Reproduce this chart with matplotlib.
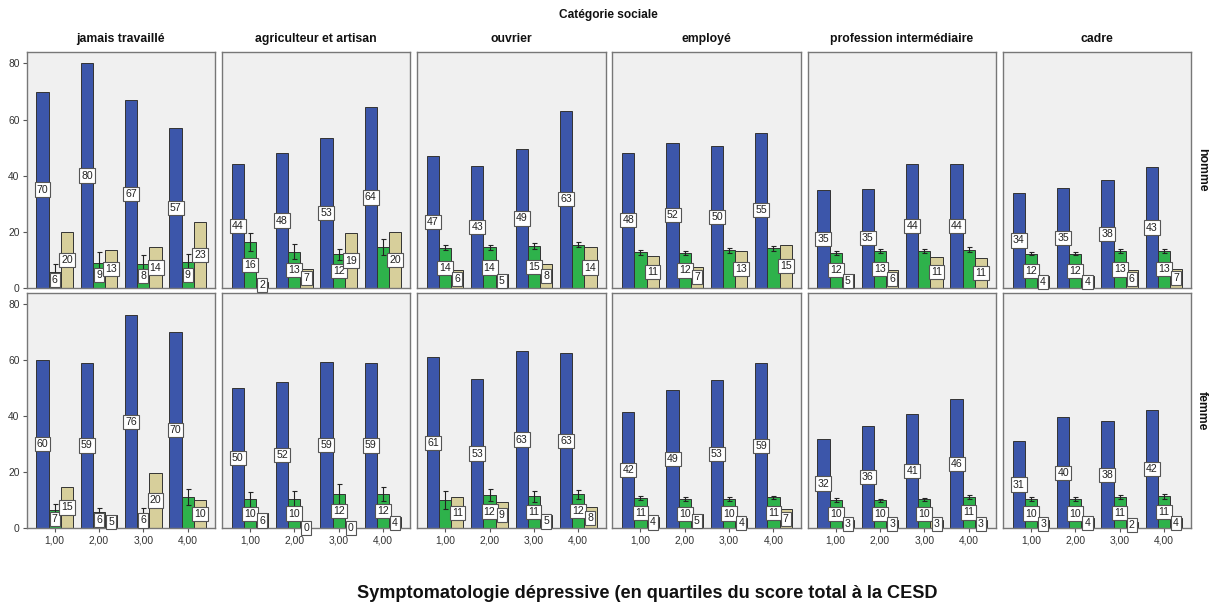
import matplotlib
matplotlib.use("Agg")
import matplotlib.pyplot as plt
import numpy as np

plt.rcParams['font.family'] = ['Liberation Sans', 'DejaVu Sans']

categories = ["jamais travaillé", "agriculteur et artisan", "ouvrier", "employé",
              "profession intermédiaire", "cadre"]
sexes = ["homme", "femme"]
quartiles = ["1,00", "2,00", "3,00", "4,00"]

# homme
blue_homme = [[70, 80, 67, 57], [44.2, 47.9, 53.3, 64.4], [47, 43.3, 49.4, 63.1],
              [48.1, 51.7, 50.4, 55.2], [34.8, 35.2, 44.2, 44.2], [33.7, 35.4, 38.4, 42.9]]
green_homme = [[5.7, 8.9, 8.3, 9.3], [16.3, 12.9, 11.9, 14.4], [14.3, 14.4, 14.8, 15.4],
               [12.6, 12.3, 13.3, 14.0], [12.4, 13.2, 13.1, 13.6], [12.1, 12.1, 13.0, 13.1]]
green_err_homme = [[2.6, 4.0, 3.4, 2.6], [3.1, 2.8, 1.9, 2.9], [1.0, 1.0, 1.0, 0.8],
                   [0.9, 0.8, 0.9, 0.9], [0.7, 0.7, 0.7, 0.8], [0.6, 0.6, 0.7, 0.8]]
green_lab_homme = [[1, 1, 1, 1], [1, 1, 1, 0], [1, 1, 1, 0],
                   [0, 1, 0, 0], [1, 1, 0, 0], [1, 1, 1, 1]]
tan_homme = [[20, 13.4, 14.4, 23.4], [2.0, 6.8, 19.4, 20], [6.4, 4.9, 8.4, 14.4],
             [11.4, 7.4, 13.1, 15.4], [5.0, 6.4, 11.1, 10.7], [4.3, 4.3, 6.2, 6.7]]

# femme
blue_femme = [[60, 59.2, 76.1, 70], [50, 52.4, 59.4, 59.2], [61.1, 53.4, 63.4, 62.6],
              [41.7, 49.4, 52.9, 58.9], [32, 36.4, 40.7, 46.2], [31.3, 39.8, 38.3, 42.3]]
green_femme = [[6.6, 5.7, 5.6, 11.1], [10.4, 10.5, 12.4, 12.3], [10.2, 12.0, 11.4, 12.1],
               [10.8, 10.4, 10.5, 11.1], [10.1, 10.0, 10.4, 11.3], [10.5, 10.5, 11.2, 11.4]]
green_err_femme = [[2.2, 1.5, 1.7, 2.8], [2.7, 3.0, 3.6, 2.6], [3.2, 2.2, 2.1, 1.6],
                   [0.8, 0.7, 0.7, 0.6], [0.6, 0.6, 0.6, 0.7], [0.7, 0.7, 0.8, 0.8]]
green_lab_femme = [[1, 1, 1, 0], [1, 1, 1, 1], [0, 1, 1, 1],
                   [1, 1, 1, 1], [1, 1, 1, 1], [1, 1, 1, 1]]
tan_femme = [[14.9, 4.6, 19.9, 10], [5.5, 0, 0, 3.9], [11.1, 9.3, 4.9, 7.5],
             [4.2, 5.1, 3.6, 6.9], [3.0, 3.0, 3.0, 3.0], [3.0, 3.7, 2.1, 3.8]]

data = {
    "homme": (blue_homme, green_homme, green_err_homme, green_lab_homme, tan_homme),
    "femme": (blue_femme, green_femme, green_err_femme, green_lab_femme, tan_femme),
}

c_blue = "#3C56AA"
c_green = "#2EB24B"
c_tan = "#D7CF9B"
c_edge = "#333333"
bg = "#F0F0F0"

W, H = 1209, 608
fig = plt.figure(figsize=(W / 100, H / 100), dpi=100)

col_left0 = 26.5
col_step = 195.25
col_w = 188.5
rows_px = [(51.7, 287.7), (292.7, 528.3)]

x = np.arange(4)
bw = 0.275


def label(ax, xc, val, show=True):
    if not show:
        return
    ax.text(xc, val / 2.0, f"{int(round(val))}", ha="center", va="center",
            fontsize=7.6, color="#222222", zorder=6, clip_on=False,
            bbox=dict(boxstyle="square,pad=0.2", fc="white", ec="#555555", lw=0.8))


for r, sex in enumerate(sexes):
    blue, green, gerr, glab, tan = data[sex]
    top, bot = rows_px[r]
    for c, cat in enumerate(categories):
        left = col_left0 + c * col_step
        ax = fig.add_axes([left / W, 1 - bot / H, col_w / W, (bot - top) / H])
        ax.set_facecolor(bg)
        ax.bar(x - bw, blue[c], bw, color=c_blue, edgecolor=c_edge, lw=0.7, zorder=2)
        ax.bar(x, green[c], bw, color=c_green, edgecolor=c_edge, lw=0.7, zorder=2)
        ax.bar(x + bw, tan[c], bw, color=c_tan, edgecolor=c_edge, lw=0.7, zorder=2)
        ax.errorbar(x, green[c], yerr=gerr[c], fmt="none", ecolor="#222222",
                    elinewidth=0.8, capsize=1.8, capthick=0.8, zorder=4)
        for i in range(4):
            label(ax, x[i] - bw, blue[c][i])
            label(ax, x[i], green[c][i], bool(glab[c][i]))
            label(ax, x[i] + bw, tan[c][i])
        ax.set_xlim(-0.635, 3.615)
        ax.set_ylim(0, 84.2)
        ax.set_yticks([0, 20, 40, 60, 80])
        ax.set_xticks(x)
        for s in ax.spines.values():
            s.set_color("#777777")
            s.set_linewidth(1.0)
        ax.tick_params(axis="both", length=3, width=0.8, color="#555555",
                       labelsize=7.4, labelcolor="#333333", pad=2)
        if c == 0:
            ax.set_yticklabels(["0", "20", "40", "60", "80"])
        else:
            ax.tick_params(axis="y", left=False, labelleft=False)
        if r == 1:
            ax.set_xticklabels(quartiles)
        else:
            ax.tick_params(axis="x", bottom=False, labelbottom=False)
        if r == 0:
            ax.text(0.5, 1.03, cat, transform=ax.transAxes, ha="center", va="bottom",
                    fontsize=8.8, fontweight="bold", color="#111111")
        if c == 5:
            fig.text(1202 / W, 1 - (top + bot) / 2 / H, sex, ha="center", va="center",
                     rotation=-90, fontsize=8.8, fontweight="bold", color="#111111")

fig.text(608 / W, 1 - 15 / H, "Catégorie sociale", ha="center", va="center",
         fontsize=8.6, fontweight="bold", color="#111111")
fig.text(647 / W, 1 - 593 / H, "Symptomatologie dépressive (en quartiles du score total à la CESD",
         ha="center", va="center", fontsize=13.1, fontweight="bold", color="#111111")

fig.savefig("out.png", dpi=100, facecolor="white")
